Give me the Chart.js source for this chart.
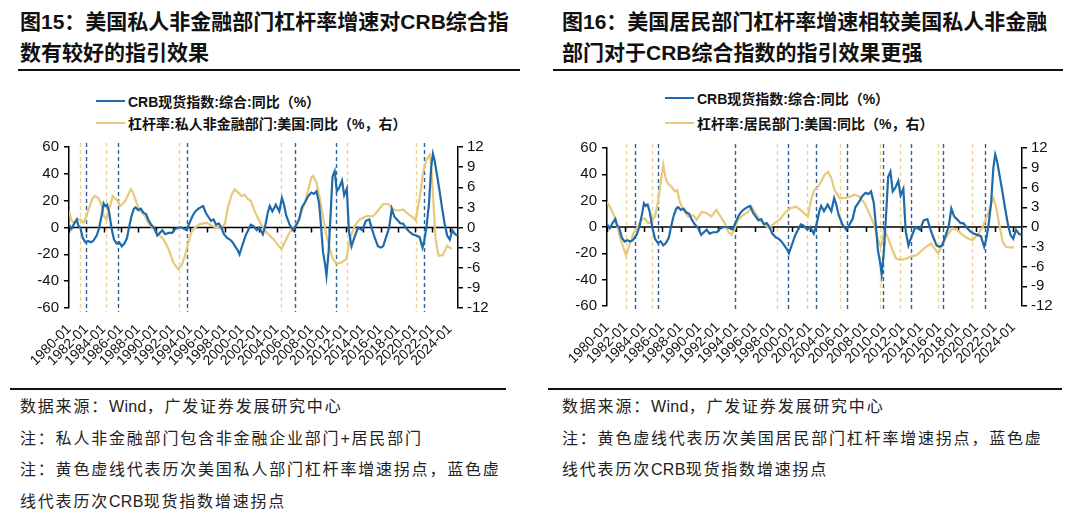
<!DOCTYPE html>
<html>
<head>
<meta charset="utf-8">
<script src="https://cdn.jsdelivr.net/npm/chart.js@4.4.0/dist/chart.umd.min.js"></script>
<style>
  body { margin: 0; background: #fff; }
  #page { position: relative; width: 1080px; height: 520px; overflow: hidden; background: #fff; }
  .title { position: absolute; top: 6px; font: bold 21px "Liberation Sans", "Noto Sans CJK SC", sans-serif; line-height: 31px; color: #111; white-space: nowrap; }
  .rule { position: absolute; height: 1.5px; background: #111; }
  .legend { position: absolute; font: bold 14px "Liberation Sans", "Noto Sans CJK SC", sans-serif; color: #111; white-space: nowrap; }
  .legend div { display: flex; align-items: center; height: 22px; }
  .legend span.sw { display: inline-block; width: 29px; height: 2.5px; margin-right: 3px; }
  .note { position: absolute; font: 16px "Liberation Sans", "Noto Sans CJK SC", sans-serif; color: #222; letter-spacing: 1.8px; line-height: 31.5px; white-space: nowrap; }
  .note b { font-weight: normal; letter-spacing: 0.3px; }
  canvas { position: absolute; }
</style>
</head>
<body>
<div id="page">
  <div class="title" style="left:20px">图15：美国私人非金融部门杠杆率增速对CRB综合指<br>数有较好的指引效果</div>
  <div class="title" style="left:562px">图16：美国居民部门杠杆率增速相较美国私人非金融<br>部门对于CRB综合指数的指引效果更强</div>
  <div class="rule" style="left:18px; top:69px; width:502px"></div>
  <div class="rule" style="left:553px; top:69px; width:510px"></div>

  <div class="legend" style="left:96px; top:90px">
    <div><span class="sw" style="background:#1F6AAB"></span>CRB现货指数:综合:同比（%）</div>
    <div><span class="sw" style="background:#E6C97A"></span>杠杆率:私人非金融部门:美国:同比（%，右）</div>
  </div>
  <div class="legend" style="left:665px; top:84px">
    <div style="height:28px"><span class="sw" style="background:#1F6AAB"></span>CRB现货指数:综合:同比（%）</div>
    <div><span class="sw" style="background:#E6C97A"></span>杠杆率:居民部门:美国:同比（%，右）</div>
  </div>

  <canvas id="left" width="500" height="250" style="left:0; top:130px"></canvas>
  <canvas id="right" width="522" height="250" style="left:540px; top:130px"></canvas>

  <div class="rule" style="left:10px; top:388px; width:496px"></div>
  <div class="rule" style="left:548px; top:388px; width:514px"></div>

  <div class="note" style="left:20px; top:391px">数据来源：<b>Wind</b>，广发证券发展研究中心<br>注：私人非金融部门包含非金融企业部门+居民部门<br>注：黄色虚线代表历次美国私人部门杠杆率增速拐点，蓝色虚<br>线代表历次<b>CRB</b>现货指数增速拐点</div>
  <div class="note" style="left:562px; top:391px">数据来源：<b>Wind</b>，广发证券发展研究中心<br>注：黄色虚线代表历次美国居民部门杠杆率增速拐点，蓝色虚<br>线代表历次<b>CRB</b>现货指数增速拐点</div>
</div>

<script>
// tick labels
var tickYears = [1980, 1982, 1984, 1986, 1988, 1990, 1992, 1994, 1996, 1998, 2000, 2002,
                 2004, 2006, 2008, 2010, 2012, 2014, 2016, 2018, 2020, 2022, 2024];
var leftTicks = [-60, -40, -20, 0, 20, 40, 60];
var rightTicks = [-12, -9, -6, -3, 0, 3, 6, 9, 12];

// CRB spot index, composite, YoY (%), same in both charts
var crbT = [1980.0, 1980.3, 1980.6, 1980.9, 1981.1, 1981.3, 1981.6, 1981.9, 1982.2, 1982.5, 1982.8, 1983.2,
            1983.5, 1983.8, 1984.0, 1984.2, 1984.4, 1984.65, 1984.9, 1985.2, 1985.5, 1985.8, 1986.1, 1986.4,
            1986.7, 1986.9, 1987.2, 1987.5, 1987.7, 1988.0, 1988.3, 1988.6, 1988.9, 1989.15, 1989.5, 1989.9,
            1990.2, 1990.5, 1990.8, 1991.1, 1991.5, 1991.9, 1992.3, 1992.7, 1993.0, 1993.3, 1993.6, 1993.9,
            1994.3, 1994.6, 1994.95, 1995.2, 1995.5, 1995.8, 1996.1, 1996.4, 1996.7, 1997.0, 1997.3, 1997.6,
            1997.9, 1998.3, 1998.6, 1998.9, 1999.2, 1999.5, 1999.7, 1999.9, 2000.1, 2000.4, 2000.7, 2001.0,
            2001.3, 2001.7, 2002.0, 2002.4, 2002.7, 2003.0, 2003.2, 2003.5, 2003.9, 2004.3, 2004.6, 2004.8,
            2005.1, 2005.5, 2005.9, 2006.2, 2006.6, 2006.9, 2007.3, 2007.6, 2008.0, 2008.3, 2008.6, 2008.9,
            2009.1, 2009.35, 2009.6, 2009.75, 2010.0, 2010.25, 2010.45, 2010.7, 2010.95, 2011.25, 2011.55, 2011.8,
            2012.1, 2012.35, 2012.65, 2013.0, 2013.4, 2013.9, 2014.3, 2014.7, 2015.0, 2015.35, 2015.7, 2016.0,
            2016.3, 2016.7, 2017.0, 2017.3, 2017.6, 2017.9, 2018.3, 2018.6, 2018.9, 2019.3, 2019.7, 2020.1,
            2020.5, 2020.85, 2021.05, 2021.3, 2021.6, 2021.85, 2022.05, 2022.25, 2022.5, 2022.8, 2023.1, 2023.4,
            2023.7, 2024.0, 2024.3, 2024.6, 2024.9];
var crbV = [2, -1, 3, 6, 1, 0, -8, -11, -10, -11, -10, -6,
            0, 10, 18, 16, 17, 11, 0, -9, -12, -11, -14, -12,
            -8, -1, 8, 14, 15, 13, 14, 11, 10, 6, 2, -1,
            -6, -4, -2, -5, -4, -4, -1, 0, 0, -1, -2, 3,
            9, 12, 14, 15, 16, 11, 8, 5, 6, 2, 3, 0,
            -5, -8, -9, -11, -14, -17, -20, -16, -12, -6, -2, 2,
            1, -2, 0, -5, 2, 12, 16, 12, 17, 12, 22, 18,
            9, 2, -2, 1, 6, 15, 19, 23, 26, 25, 27, 18,
            3, -18, -28, -36, -18, 12, 38, 42, 27, 30, 35, 24,
            29, -3, -14, -7, 0, -2, 5, 6, -1, -8, -14, -15,
            -14, -6, 0, 14, 8, 6, 3, 3, 0, -3, -5, -6,
            -7, -15, -10, 0, 18, 45, 55, 50, 40, 28, 15, 3,
            -6, -9, -2, -5, -6];

// leverage, private non-financial sector, US, YoY (%, right axis)
var pnfT = [1980.0, 1980.3, 1980.7, 1981.0, 1981.3, 1981.65, 1982.0, 1982.4, 1982.7, 1983.0, 1983.4, 1983.8,
            1984.0, 1984.35, 1984.75, 1985.05, 1985.3, 1985.6, 1985.9, 1986.2, 1986.5, 1986.85, 1987.15, 1987.4,
            1987.8, 1988.2, 1988.8, 1989.15, 1989.75, 1990.3, 1990.9, 1991.5, 1992.05, 1992.6, 1993.0, 1993.4,
            1993.8, 1994.15, 1994.55, 1995.1, 1995.9, 1996.65, 1997.45, 1998.0, 1998.4, 1998.8, 1999.15, 1999.55,
            1999.95, 2000.3, 2000.7, 2001.0, 2001.5, 2002.05, 2002.8, 2003.6, 2004.2, 2004.55, 2004.95, 2005.5,
            2006.1, 2006.7, 2007.25, 2007.65, 2008.0, 2008.2, 2008.6, 2009.0, 2009.4, 2009.75, 2010.15, 2010.5,
            2010.9, 2011.5, 2012.05, 2012.45, 2013.0, 2013.6, 2014.4, 2015.15, 2015.7, 2016.3, 2016.9, 2017.45,
            2018.0, 2018.6, 2019.2, 2019.75, 2020.05, 2020.5, 2020.9, 2021.3, 2021.65, 2021.85, 2022.1, 2022.35,
            2022.7, 2023.2, 2023.7, 2024.2];
var pnfV = [2.5, 1.0, 0.7, 1.2, 1.2, 0.7, 1.7, 3.2, 4.3, 4.7, 4.4, 3.2,
            1.7, 1.2, 3.2, 4.7, 4.4, 4.0, 3.2, 3.5, 4.0, 4.9, 5.7, 5.2,
            3.7, 2.5, 1.7, 0.7, -0.2, -1.0, -1.7, -3.2, -5.2, -6.2, -5.7, -4.2,
            -2.2, -0.7, 0, 0.5, 0.7, 0.2, -0.2, 0.5, 3.2, 4.9, 5.7, 5.2,
            4.7, 4.9, 4.2, 4.0, 2.3, 0.8, -0.7, -1.7, -2.7, -3.2, -2.2, -0.7,
            0.2, 1.7, 3.7, 5.7, 7.4, 7.7, 6.7, 4.2, 1.2, -1.2, -3.2, -4.7,
            -5.4, -5.2, -4.7, -1.7, 0.2, 1.2, 1.7, 1.7, 2.5, 3.5, 3.5, 2.7,
            2.5, 2.7, 2.0, 1.5, 1.1, 4.2, 8.1, 10.1, 10.8, 9.4, 4.0, -1.7,
            -4.2, -4.1, -2.7, -3.2];

// leverage, household sector, US, YoY (%, right axis)
var hhT = [1980.0, 1980.3, 1980.9, 1981.4, 1981.75, 1982.05, 1982.5, 1982.85, 1983.3, 1983.75, 1984.1, 1984.45,
           1984.8, 1985.2, 1985.55, 1985.85, 1986.1, 1986.35, 1986.6, 1987.0, 1987.35, 1987.6, 1987.9, 1988.25,
           1988.8, 1989.35, 1989.7, 1990.25, 1990.8, 1991.3, 1991.85, 1992.2, 1992.75, 1993.1, 1993.5, 1993.85,
           1994.2, 1994.75, 1995.3, 1995.65, 1996.0, 1996.55, 1997.1, 1997.6, 1998.15, 1998.7, 1999.25, 1999.8,
           2000.5, 2001.2, 2001.75, 2002.1, 2002.45, 2002.85, 2003.2, 2003.55, 2003.95, 2004.3, 2004.65, 2005.2,
           2005.7, 2006.3, 2006.8, 2007.35, 2007.9, 2008.4, 2008.95, 2009.3, 2009.65, 2010.05, 2010.4, 2010.8,
           2011.3, 2011.85, 2012.4, 2012.95, 2013.5, 2014.0, 2014.55, 2015.1, 2015.6, 2015.9, 2016.35, 2016.9,
           2017.4, 2017.95, 2018.5, 2019.05, 2019.6, 2020.15, 2020.7, 2021.2, 2021.85, 2022.1, 2022.5, 2022.85,
           2023.2, 2023.6, 2024.1];
var hhV = [3.8, 3.1, 1.3, -1.5, -3.0, -4.3, -2.5, -1.0, 0, 1.1, 1.3, 0.6,
           0.8, 1.6, 4.1, 7.1, 9.4, 7.4, 6.6, 6.1, 5.4, 5.6, 3.8, 2.6,
           1.6, 1.8, 1.1, 2.3, 2.1, 1.6, 2.6, 1.8, 0.6, -0.7, -1.2, -0.2,
           1.1, 1.8, 2.3, 3.1, 2.3, 1.1, 0.3, -0.2, 0.6, 1.1, 2.1, 2.8,
           3.1, 2.3, 1.6, 4.1, 5.6, 6.1, 6.9, 7.9, 8.4, 7.4, 5.6, 4.4,
           4.4, 4.6, 4.9, 4.6, 3.6, 2.1, 0.3, -1.7, -3.0, -0.5, -1.5, -3.0,
           -4.8, -5.0, -4.8, -4.5, -4.3, -3.7, -3.0, -2.5, -3.5, -4.0, -2.5, -1.2,
           -0.2, -0.5, -1.2, -1.7, -2.0, -1.2, 0, 1.8, 4.4, 3.3, 0.3, -2.2,
           -3.0, -3.1, -3.1];

// turning points (dashed lines)
var leftYellowTurns = [1981.27, 1984.23, 1992.7, 2004.48, 2012.18, 2020.07];
var leftBlueTurns = [1981.96, 1985.62, 1993.59, 2006.17, 2010.83, 2021.03];
var rightYellowTurns = [1982.02, 1984.83, 1998.45, 2001.69, 2005.19, 2009.58, 2011.78, 2015.85, 2019.56];
var rightBlueTurns = [1983.03, 1985.55, 1993.84, 1999.64, 2002.59, 2006.02, 2009.87, 2012.93, 2016.36, 2020.97];

var BLUE = '#1F6AAB', GOLD = '#E6C97A';

function toPoints(ts, vs) {
    return ts.map(function(t, i) { return {x: t, y: vs[i]}; });
}

// dashed turning lines + zero axis with tick marks
var guides = {
    id: 'guides',
    beforeDatasetsDraw: function(chart, args, opts) {
        var ctx = chart.ctx, a = chart.chartArea;
        var xs = chart.scales.x, ys = chart.scales.y;
        ctx.save();
        ctx.lineWidth = 1.4;
        ctx.setLineDash([4, 3]);
        function vline(t, color) {
            var px = Math.round(xs.getPixelForValue(t)) + 0.5;
            ctx.strokeStyle = color;
            ctx.beginPath();
            ctx.moveTo(px, a.top - 4);
            ctx.lineTo(px, a.bottom + 4);
            ctx.stroke();
        }
        opts.yellow.forEach(function(t) { vline(t, '#EBD393'); });
        opts.blue.forEach(function(t) { vline(t, '#2D6295'); });
        ctx.setLineDash([]);
        var y0 = ys.getPixelForValue(0);
        ctx.strokeStyle = '#000';
        ctx.lineWidth = 1.5;
        ctx.beginPath();
        ctx.moveTo(a.left, y0);
        ctx.lineTo(a.right, y0);
        tickYears.forEach(function(t) {
            var px = Math.round(xs.getPixelForValue(t)) + 0.5;
            ctx.moveTo(px, y0);
            ctx.lineTo(px, y0 + 5);
        });
        ctx.stroke();
        ctx.restore();
    }
};

function makeChart(id, levLabel, levT, levV, yellowTurns, blueTurns, box) {
    var tickFont = {family: 'Liberation Sans', size: 15};
    return new Chart(document.getElementById(id), {
        type: 'line',
        data: {
            datasets: [{
                label: 'CRB现货指数:综合:同比（%）',
                data: toPoints(crbT, crbV),
                borderColor: BLUE,
                borderWidth: 2.2,
                yAxisID: 'y'
            }, {
                label: levLabel,
                data: toPoints(levT, levV),
                borderColor: GOLD,
                borderWidth: 2.2,
                yAxisID: 'y1'
            }]
        },
        options: {
            responsive: false,
            animation: false,
            devicePixelRatio: 1,
            layout: {padding: {top: box.top, left: 0, right: 0, bottom: 0}},
            elements: {point: {radius: 0}, line: {tension: 0}},
            plugins: {
                legend: {display: false},
                tooltip: {enabled: false},
                guides: {yellow: yellowTurns, blue: blueTurns}
            },
            scales: {
                x: {
                    type: 'linear',
                    min: 1980,
                    max: 2024.95,
                    afterBuildTicks: function(s) { s.ticks = tickYears.map(function(v) { return {value: v}; }); },
                    afterFit: function(s) { s.height = box.xh; },
                    grid: {display: false},
                    border: {display: false},
                    ticks: {
                        autoSkip: false, minRotation: 45, maxRotation: 45, padding: 5,
                        color: '#111', font: {family: 'Liberation Sans', size: 14},
                        callback: function(v) { return v + '-01'; }
                    }
                },
                y: {
                    position: 'left',
                    min: -60, max: 60,
                    afterBuildTicks: function(s) { s.ticks = leftTicks.map(function(v) { return {value: v}; }); },
                    afterFit: function(s) { s.width = box.left; },
                    grid: {drawOnChartArea: false, drawTicks: true, tickLength: 5, color: '#000', lineWidth: 1.5},
                    border: {display: true, color: '#000', width: 1.5},
                    ticks: {autoSkip: false, color: '#111', font: tickFont, padding: 5}
                },
                y1: {
                    position: 'right',
                    min: -12, max: 12,
                    afterBuildTicks: function(s) { s.ticks = rightTicks.map(function(v) { return {value: v}; }); },
                    afterFit: function(s) { s.width = box.right; },
                    grid: {drawOnChartArea: false, drawTicks: true, tickLength: 5, color: '#000', lineWidth: 1.5},
                    border: {display: true, color: '#000', width: 1.5},
                    ticks: {autoSkip: false, color: '#111', font: tickFont, padding: 4}
                }
            }
        },
        plugins: [guides]
    });
}

makeChart('left', '杠杆率:私人非金融部门:美国:同比（%，右）', pnfT, pnfV,
          leftYellowTurns, leftBlueTurns, {left: 69, right: 42, top: 17, xh: 72});
makeChart('right', '杠杆率:居民部门:美国:同比（%，右）', hhT, hhV,
          rightYellowTurns, rightBlueTurns, {left: 67, right: 40, top: 18, xh: 74});
</script>
</body>
</html>
